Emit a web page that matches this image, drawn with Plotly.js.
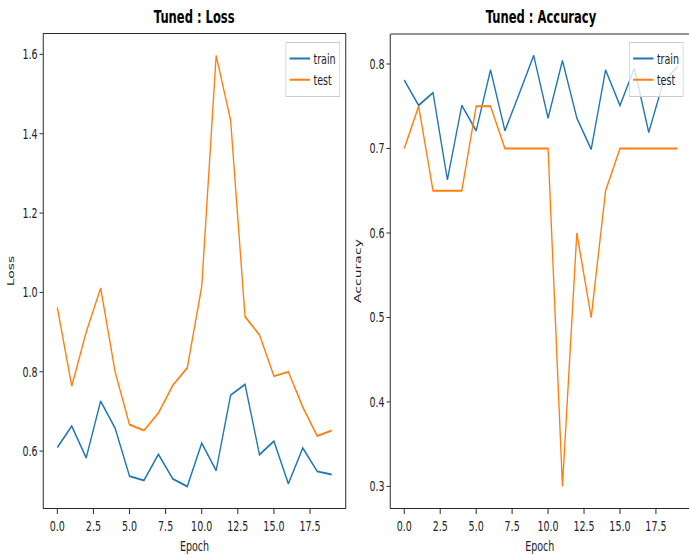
<!DOCTYPE html>
<html>
<head>
<meta charset="utf-8">
<script src="https://cdn.plot.ly/plotly-3.0.1.min.js"></script>
<style>
html,body{margin:0;padding:0;background:#fff;}
#wrap{width:689px;height:555px;overflow:hidden;position:relative;}
#chart{width:1013px;height:555px;transform:scaleX(0.68016);transform-origin:0 0;}
</style>
</head>
<body>
<div id="wrap"><div id="chart"></div></div>
<script>
// Data
const epochs = [0,1,2,3,4,5,6,7,8,9,10,11,12,13,14,15,16,17,18,19];
const lossTrain = [0.609,0.663,0.583,0.726,0.658,0.537,0.526,0.592,0.530,0.511,0.620,0.551,0.741,0.768,0.591,0.625,0.518,0.608,0.549,0.541];
const lossTest  = [0.962,0.764,0.900,1.011,0.800,0.667,0.652,0.696,0.766,0.810,1.015,1.597,1.434,0.939,0.893,0.789,0.800,0.711,0.638,0.652];
const accTrain  = [0.781,0.751,0.766,0.663,0.751,0.721,0.793,0.721,0.765,0.810,0.736,0.804,0.736,0.699,0.793,0.751,0.795,0.719,0.778,0.797];
const accTest   = [0.70,0.75,0.65,0.65,0.65,0.75,0.75,0.70,0.70,0.70,0.70,0.30,0.60,0.50,0.65,0.70,0.70,0.70,0.70,0.70];
const seriesNames = ['train','test'];
const titles = ['Tuned : Loss','Tuned : Accuracy'];
const xLabel = 'Epoch';
const yLabels = ['Loss','Accuracy'];

const FONT = '"DejaVu Sans", sans-serif';
const blue = '#1f77b4', orange = '#ff7f0e';

const traces = [
  {x: epochs, y: lossTrain, name: seriesNames[0], mode:'lines', line:{color:blue,width:2}, xaxis:'x', yaxis:'y', legend:'legend'},
  {x: epochs, y: lossTest, name: seriesNames[1], mode:'lines', line:{color:orange,width:2}, xaxis:'x', yaxis:'y', legend:'legend'},
  {x: epochs, y: accTrain, name: seriesNames[0], mode:'lines', line:{color:blue,width:2}, xaxis:'x2', yaxis:'y2', legend:'legend2'},
  {x: epochs, y: accTest, name: seriesNames[1], mode:'lines', line:{color:orange,width:2}, xaxis:'x2', yaxis:'y2', legend:'legend2'}
];

const RW = 689, W = 1013, H = 555; // RW: visible width, W: layout width before horizontal squeeze
const axisCommon = {
  showgrid:false, zeroline:false, showline:true, linecolor:'#000', linewidth:1,
  ticks:'outside', ticklen:5, tickwidth:1, tickcolor:'#000',
  tickfont:{family:FONT, size:14, color:'#222'}, tickformat:'.1f'
};
const legendCommon = {
  bgcolor:'rgba(255,255,255,0.8)', bordercolor:'#cccccc', borderwidth:1,
  font:{family:FONT, size:14, color:'#222'}, yanchor:'top',
  tracegroupgap:0, itemwidth:30
};
const titleFont = {family:FONT,size:14,color:'#222'};

const layout = {
  width: W, height: H,
  margin:{l:0,r:0,t:0,b:0},
  paper_bgcolor:'#fff', plot_bgcolor:'#fff',
  showlegend:true,
  xaxis: Object.assign({}, axisCommon, {domain:[43.6/RW, 345.4/RW], range:[-0.95,19.95], dtick:2.5, tick0:0, mirror:true, anchor:'y',
    title:{text:xLabel, font:titleFont, standoff:8}}),
  yaxis: Object.assign({}, axisCommon, {domain:[1-508/H, 1-34/H], range:[0.4567,1.6513], dtick:0.2, tick0:0, mirror:true, anchor:'x',
    title:{text:yLabels[0], font:titleFont, standoff:8}}),
  xaxis2: Object.assign({}, axisCommon, {domain:[390.6/RW, 1], range:[-0.95,19.80], dtick:2.5, tick0:0, mirror:false, anchor:'y2',
    title:{text:xLabel, font:titleFont, standoff:8}}),
  yaxis2: Object.assign({}, axisCommon, {domain:[1-508/H, 1-34/H], range:[0.2745,0.8355], dtick:0.1, tick0:0, mirror:false, anchor:'x2',
    title:{text:yLabels[1], font:titleFont, standoff:8}}),
  legend: Object.assign({}, legendCommon, {x:340/RW, xanchor:'right', y:1-42/H}),
  legend2: Object.assign({}, legendCommon, {x:629/RW, xanchor:'left', y:1-42/H}),
  shapes:[
    {type:'line', xref:'x2 domain', yref:'y2 domain', x0:0, x1:1, y0:1, y1:1, line:{color:'#000',width:1}}
  ],
  annotations:[
    {text:'<b>'+titles[0]+'</b>', xref:'paper', yref:'paper', x:194.5/RW, y:1-17/H, xanchor:'center', yanchor:'middle', showarrow:false, font:{family:FONT,size:17,color:'#000'}},
    {text:'<b>'+titles[1]+'</b>', xref:'paper', yref:'paper', x:541/RW, y:1-17/H, xanchor:'center', yanchor:'middle', showarrow:false, font:{family:FONT,size:17,color:'#000'}}
  ]
};

Plotly.newPlot('chart', traces, layout, {staticPlot:true, displayModeBar:false});
</script>
</body>
</html>
